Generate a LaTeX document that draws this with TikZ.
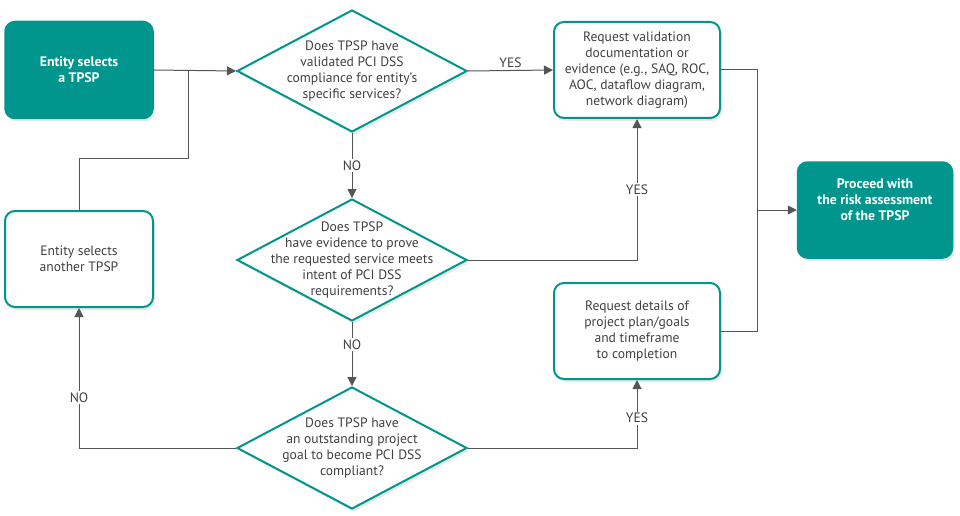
\documentclass[tikz,border=0pt]{standalone}
\usepackage{fontspec}
\setmainfont{PT Sans}
\usetikzlibrary{arrows.meta,shapes.geometric,shadows}
\definecolor{teal1}{RGB}{0,150,142}
\definecolor{txtgray}{RGB}{64,64,64}
\definecolor{linegray}{RGB}{85,85,85}
\tikzset{
  shad/.style={drop shadow={opacity=0.18,shadow xshift=2pt,shadow yshift=-3pt}},
  filledbox/.style={draw=teal1,fill=teal1,line width=1.5pt,rounded corners=10pt,shad,
    text=white,font=\bfseries\fontsize{13.8}{16}\selectfont,align=center},
  openbox/.style={draw=teal1,fill=white,line width=2pt,rounded corners=10pt,shad,
    text=txtgray,font=\fontsize{13.6}{16}\selectfont,align=center},
  dia/.style={diamond,draw=teal1,fill=white,line width=2pt,inner sep=0pt,shad,
    minimum width=230pt,minimum height=122pt},
  diatext/.style={text=txtgray,font=\fontsize{13.6}{16}\selectfont,align=center},
  conn/.style={draw=linegray,line width=1pt},
  arr/.style={conn,-{Triangle[length=9pt,width=9pt]}},
  lbl/.style={text=txtgray,font=\fontsize{13.6}{14}\selectfont,fill=white,inner sep=1.5pt}
}
\begin{document}
\begin{tikzpicture}[x=1pt,y=-1pt]
\useasboundingbox (0,0) rectangle (960,516);
% nodes
\node[filledbox,minimum width=148pt,minimum height=97pt] (A) at (79,70) {Entity selects\\a TPSP};
\node[openbox,minimum width=148pt,minimum height=96pt] (B) at (79,259) {Entity selects\\another TPSP};
\node[openbox,minimum width=166pt,minimum height=96pt] (C) at (637,70) {Request validation\\documentation or\\evidence (e.g., SAQ, ROC,\\AOC, dataflow diagram,\\network diagram)};
\node[openbox,minimum width=166pt,minimum height=96pt] (E) at (637,331) {Request details of\\project plan/goals\\and timeframe\\to completion};
\node[filledbox,minimum width=155pt,minimum height=96pt] (F) at (875,210) {Proceed with\\the risk assessment\\of the TPSP\\[4pt]};
\node[dia] (D1) at (352,71) {};
\node[diatext] at (D1) {Does TPSP have\\validated PCI DSS\\compliance for entity’s\\specific services?};
\node[dia] (D2) at (352,260) {};
\node[diatext] at (D2) {Does TPSP\\have evidence to prove\\the requested service meets\\intent of PCI DSS\\requirements?};
\node[dia] (D3) at (352,448) {};
\node[diatext] at (D3) {Does TPSP have\\an outstanding project\\goal to become PCI DSS\\compliant?};
% junctions
\coordinate (j1) at (188,70);
\coordinate (k1) at (188,158);
\coordinate (j2) at (757,210);
% connectors
\draw[arr] (A.east) -- (D1.west);
\draw[conn] (B.north) |- (k1) -- (j1);
\draw[arr] (D1.east) -- node[lbl,above=1pt,fill=none] {YES} (C.west);
\draw[arr] (D1.south) -- node[lbl] {NO} (D2.north);
\draw[arr] (D2.east) -| node[lbl,pos=0.75] {YES} (C.south);
\draw[arr] (D2.south) -- node[lbl,pos=0.35] {NO} (D3.north);
\draw[arr] (D3.west) -| node[lbl,pos=0.68] {NO} (B.south);
\draw[arr] (D3.east) -| node[lbl,pos=0.72] {YES} (E.south);
\draw[conn] (C.east) -| (j2);
\draw[conn] (E.east) -| (j2);
\draw[arr] (j2) -- (F.west);
\end{tikzpicture}
\end{document}
